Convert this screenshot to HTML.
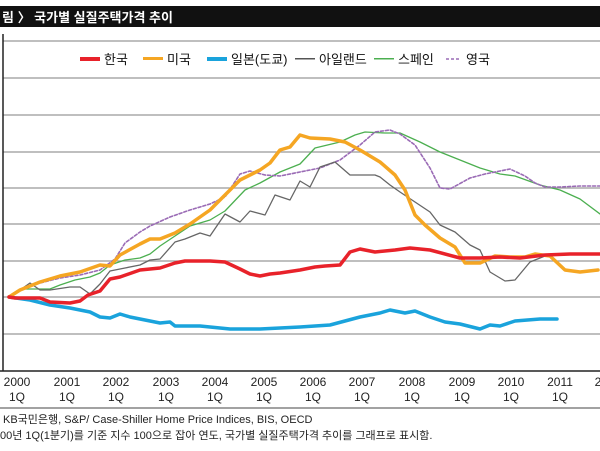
<!DOCTYPE html>
<html><head><meta charset="utf-8"><style>
body{margin:0;background:#fff;width:600px;height:451px;overflow:hidden;font-family:"Liberation Sans","Noto Sans CJK KR",sans-serif}
</style></head><body>
<svg width="600" height="451" xmlns="http://www.w3.org/2000/svg" style="position:absolute;left:0;top:0">
<rect x="0" y="6" width="600" height="21" fill="#111"/>
<text x="2" y="22" fill="#fff" font-size="13" font-weight="bold" font-family="Liberation Sans, Noto Sans CJK KR, sans-serif">림 〉 국가별 실질주택가격 추이</text>
<g stroke="#999" stroke-width="1.3">
<line x1="3" y1="41" x2="600" y2="41"/><line x1="3" y1="78" x2="600" y2="78"/><line x1="3" y1="115" x2="600" y2="115"/><line x1="3" y1="152" x2="600" y2="152"/><line x1="3" y1="188" x2="600" y2="188"/><line x1="3" y1="224" x2="600" y2="224"/><line x1="3" y1="261" x2="600" y2="261"/><line x1="3" y1="297" x2="600" y2="297"/><line x1="3" y1="334" x2="600" y2="334"/>
</g>
<line x1="3" y1="34" x2="3" y2="371" stroke="#222" stroke-width="1.5"/>
<line x1="0" y1="371" x2="600" y2="371" stroke="#222" stroke-width="1.5"/>
<line x1="0" y1="408" x2="600" y2="408" stroke="#444" stroke-width="1"/>
<g font-size="13" fill="#111">
<rect x="80" y="57" width="20" height="4" fill="#e8222a"/><text x="104" y="64">한국</text>
<rect x="143" y="57" width="20" height="3" fill="#f5a623"/><text x="167" y="64">미국</text>
<rect x="207" y="57" width="20" height="4" fill="#1aa3dc"/><text x="231" y="64">일본(도쿄)</text>
<rect x="295" y="58" width="20" height="1.5" fill="#555"/><text x="319" y="64">아일랜드</text>
<rect x="374" y="58" width="20" height="1.5" fill="#4caf50"/><text x="398" y="64">스페인</text>
<line x1="446" y1="59" x2="461" y2="59" stroke="#9a6bb5" stroke-width="1.5" stroke-dasharray="3,2"/><text x="466" y="64">영국</text>
</g>
<g fill="none" stroke-linejoin="round" stroke-linecap="round">
<polyline stroke="#4caf50" stroke-width="1.3" points="9,297 20,289 50,289 60,285 75,280 90,277 100,273 110,265 125,260 140,258 150,254 160,246 175,236 190,226 210,220 225,211 245,190 260,183 280,172 300,164 315,148 340,142 355,135 365,132 385,133 400,133 420,142 440,152 465,162 480,168 500,174 515,176 540,185 560,190 580,199 600,214"/>
<polyline stroke="#9a6bb5" stroke-width="1.6" stroke-dasharray="3,2" points="9,297 20,290 40,283 60,278 80,275 100,270 115,259 125,243 140,232 150,226 170,217 190,210 210,204 225,197 240,174 250,171 265,175 280,176 300,172 320,168 340,160 360,145 375,132 390,130 400,134 415,145 430,168 440,188 450,189 470,178 485,174 500,171 510,169 525,176 535,183 545,187 560,187 580,186 600,186"/>
<polyline stroke="#666" stroke-width="1.3" points="9,297 20,290 30,283 40,290 50,290 70,287 80,287 90,294 100,284 110,271 125,268 140,265 150,260 160,259 175,242 185,239 200,233 210,236 225,214 240,222 250,211 265,215 275,195 290,200 300,181 310,187 320,167 335,162 350,175 375,175 380,177 390,185 400,192 415,202 430,212 440,225 455,232 470,245 480,250 490,272 505,281 515,280 530,262 545,256"/>
<polyline stroke="#1aa3dc" stroke-width="3.5" points="9,297 30,300 50,305 70,308 90,312 100,317 110,318 120,314 130,317 150,321 160,323 170,322 175,326 200,326 210,327 230,329 260,329 280,328 300,327 330,325 345,321 360,317 380,313 390,310 405,313 415,311 430,317 445,322 460,324 480,329 490,325 500,326 515,321 540,319 557,319"/>
<polyline stroke="#f5a623" stroke-width="3.5" points="9,297 20,290 40,282 60,276 80,272 100,265 110,266 120,255 140,244 150,239 160,239 175,233 190,224 210,210 225,195 240,180 260,170 270,163 280,150 290,147 300,135 310,138 330,139 345,142 360,150 380,162 395,175 405,190 415,215 425,225 440,238 455,247 465,263 480,263 495,256 510,257 525,257 535,254 550,256 565,270 580,272 598,270"/>
<polyline stroke="#e8222a" stroke-width="3.5" points="9,297 15,298 40,298 50,302 70,303 80,301 88,295 100,291 110,279 120,277 140,270 160,268 175,263 185,261 210,261 225,262 240,269 250,274 260,276 270,274 280,273 300,270 315,267 325,266 340,265 350,252 360,249 375,252 395,250 410,248 430,250 460,258 480,258 500,257 520,258 545,255 570,254 600,254"/>
</g>
<g font-size="12" fill="#222" text-anchor="middle">
<text x="17" y="386">2000</text><text x="17" y="401">1Q</text>
<text x="67" y="386">2001</text><text x="67" y="401">1Q</text>
<text x="116" y="386">2002</text><text x="116" y="401">1Q</text>
<text x="166" y="386">2003</text><text x="166" y="401">1Q</text>
<text x="215" y="386">2004</text><text x="215" y="401">1Q</text>
<text x="264" y="386">2005</text><text x="264" y="401">1Q</text>
<text x="313" y="386">2006</text><text x="313" y="401">1Q</text>
<text x="362" y="386">2007</text><text x="362" y="401">1Q</text>
<text x="412" y="386">2008</text><text x="412" y="401">1Q</text>
<text x="462" y="386">2009</text><text x="462" y="401">1Q</text>
<text x="511" y="386">2010</text><text x="511" y="401">1Q</text>
<text x="560" y="386">2011</text><text x="560" y="401">1Q</text>
<text x="608" y="386">2012</text>
</g>
<g font-size="11" fill="#222">
<text x="3" y="423">KB국민은행, S&amp;P/ Case-Shiller Home Price Indices, BIS, OECD</text>
<text x="0" y="439">00년 1Q(1분기)를 기준 지수 100으로 잡아 연도, 국가별 실질주택가격 추이를 그래프로 표시함.</text>
</g>
</svg>
</body></html>
